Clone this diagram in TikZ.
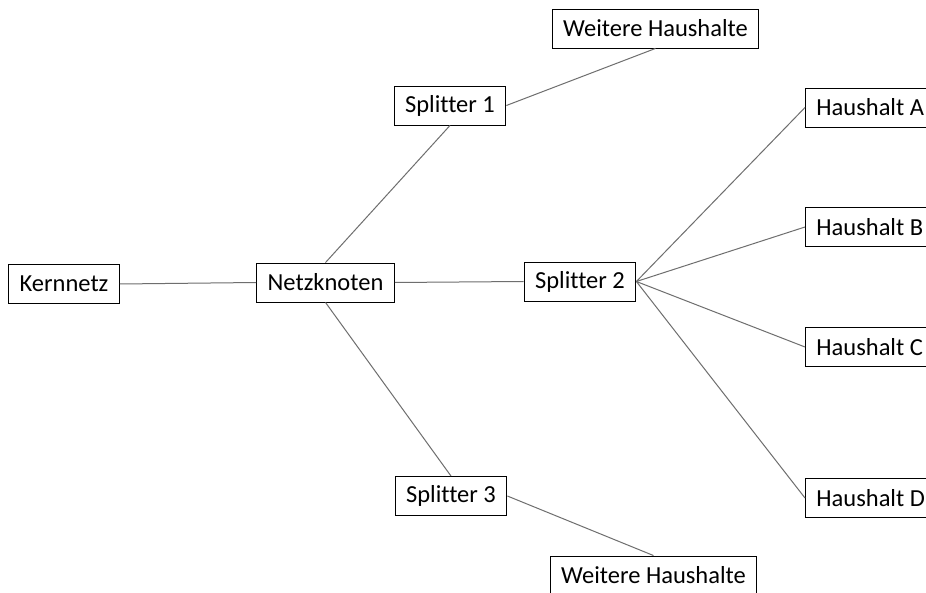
\documentclass[tikz,border=0pt]{standalone}
\usepackage{fontspec}
\setmainfont[Ligatures=CommonOff]{Carlito}
\usepackage{tikz}
\definecolor{netzlinie}{RGB}{110,110,110}
\tikzset{
  netzbox/.style={draw=black,line width=0.9pt,fill=white,minimum height=39pt,inner xsep=11pt,inner ysep=4pt,
    font=\fontsize{24.5}{28}\selectfont},
  netzlink/.style={draw=netzlinie,line width=1pt}
}
\begin{document}
\begin{tikzpicture}[x=1pt,y=-1pt]
\clip (0,0) rectangle (926,593);
\fill[white] (0,0) rectangle (926,593);
\node [netzbox] (kern) at (64,284) {Kernnetz};
\node [netzbox] (knoten) at (325.5,282.5) {Netzknoten};
\node [netzbox] (split1) at (450,105.5) {Splitter 1};
\node [netzbox] (split2) at (580,281.5) {Splitter 2};
\node [netzbox] (split3) at (451,496) {Splitter 3};
\node [netzbox] (weiter1) at (655.5,28.5) {Weitere Haushalte};
\node [netzbox] (weiter2) at (653.5,575.5) {Weitere Haushalte};
\node [netzbox,anchor=west] (hhA) at (805,107.5) {Haushalt A};
\node [netzbox,anchor=west] (hhB) at (805,227) {Haushalt B};
\node [netzbox,anchor=west] (hhC) at (805,347) {Haushalt C};
\node [netzbox,anchor=west] (hhD) at (805,498) {Haushalt D};
\draw [netzlink] (kern.east) -- (knoten.west);
\draw [netzlink] (knoten.north) -- (split1.south);
\draw [netzlink] (knoten.east) -- (split2.west);
\draw [netzlink] (knoten.south) -- (split3.north);
\draw [netzlink] (split1.east) -- (weiter1.south);
\draw [netzlink] (split3.east) -- (weiter2.north);
\foreach \hh in {hhA,hhB,hhC,hhD}
  \draw [netzlink] (split2.east) -- (\hh.west);
\end{tikzpicture}
\end{document}
